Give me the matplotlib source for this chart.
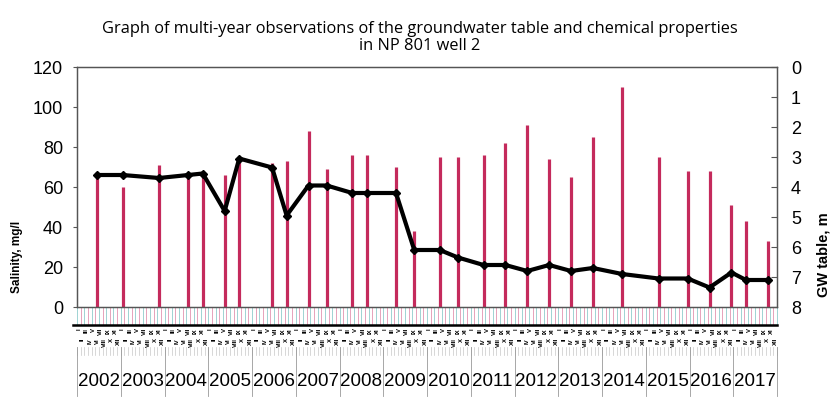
import matplotlib
matplotlib.use("Agg")
import matplotlib.pyplot as plt
import matplotlib.transforms as mtransforms

# observation dates (year-month), salinity (mg/l) and groundwater table depth (m)
DATES = ["2002-06", "2003-01", "2003-11", "2004-07", "2004-11", "2005-05",
         "2005-09", "2006-06", "2006-10", "2007-04", "2007-09", "2008-04",
         "2008-08", "2009-04", "2009-09", "2010-04", "2010-09", "2011-04",
         "2011-10", "2012-04", "2012-10", "2013-04", "2013-10", "2014-06",
         "2015-04", "2015-12", "2016-06", "2016-12", "2017-04", "2017-10"]
SALINITY = [66, 60, 71, 66, 66, 66, 74, 72, 73, 88, 69, 76, 76, 70, 38,
            75, 75, 76, 82, 91, 74, 65, 85, 110, 75, 68, 68, 51, 43, 33]
GW_DEPTH = [3.6, 3.6, 3.7, 3.6, 3.55, 4.8, 3.05, 3.35, 4.95, 3.95, 3.95, 4.2,
            4.2, 4.2, 6.1, 6.1, 6.35, 6.6, 6.6, 6.8, 6.6, 6.8, 6.7, 6.9,
            7.05, 7.05, 7.35, 6.85, 7.1, 7.1]
YEARS = list(range(2002, 2018))
MONTHS = ["I", "II", "III", "IV", "V", "VI", "VII", "VIII", "IX", "X", "XI", "XII"]

BAR_COLOR = "#c42a5c"
TICK_FONT = "Liberation Sans"


def to_year(s):
    y, m = s.split("-")
    return int(y) + (int(m) - 0.5) / 12


x = [to_year(d) for d in DATES]

fig = plt.figure(figsize=(8.4, 4.14), dpi=100)
W, H = 840, 414
ax = fig.add_axes([77 / W, 106 / H, 700 / W, 240 / H])

ax.vlines(x, 0, SALINITY, color=BAR_COLOR, lw=2.3, zorder=2)
ax.set_xlim(YEARS[0], YEARS[-1] + 1)
ax.set_ylim(0, 120)
ax.set_yticks(range(0, 121, 20))
ax.set_xticks([])
ax.tick_params(axis="y", direction="out", length=3, pad=7, labelsize=13,
               color="#555555")
for lab in ax.get_yticklabels():
    lab.set_fontfamily(TICK_FONT)

ax2 = ax.twinx()
ax2.plot(x, GW_DEPTH, color="black", lw=3.0, marker="D", ms=4.5, zorder=3)
ax2.set_ylim(8, 0)
ax2.set_yticks(range(0, 9))
ax2.tick_params(axis="y", direction="in", length=4, pad=10, labelsize=13,
                color="#555555")
for lab in ax2.get_yticklabels():
    lab.set_fontfamily(TICK_FONT)

for a in (ax, ax2):
    for sp in a.spines.values():
        sp.set_color("#555555")
        sp.set_linewidth(0.9)

# time scale under the plot: month ticks, month numerals, year blocks
trans = mtransforms.blended_transform_factory(ax.transData, ax.transAxes)
px = 1 / 240
for k in range(len(YEARS) * 12 + 1):
    m = YEARS[0] + k / 12
    c = "#e6a3bb" if k % 2 else "#9fd3d3"
    ax.plot([m, m], [0, -17 * px], color=c, lw=0.7, transform=trans,
            clip_on=False)
    ax.plot([m, m], [-40 * px, -48 * px], color="#c8c8c8", lw=0.5,
            transform=trans, clip_on=False)
ax.plot([YEARS[0] - 0.1, YEARS[-1] + 1], [-18 * px, -18 * px], color="black",
        lw=1.8, transform=trans, clip_on=False)

# month numerals in two staggered rows so they do not collide
for yr in YEARS:
    for k, mon in enumerate(MONTHS):
        row_y = -20 * px if k % 2 == 0 else -30 * px
        ax.text(yr + (k + 0.5) / 12, row_y, mon, rotation=90, ha="center",
                va="top", fontsize=4.3, fontweight="bold", fontfamily=TICK_FONT,
                transform=trans, clip_on=False)
    ax.text(yr + 0.5, -74 * px, str(yr), ha="center", va="center",
            fontsize=13.5, fontfamily=TICK_FONT, transform=trans)
for yr in YEARS + [YEARS[-1] + 1]:
    ax.plot([yr, yr], [-40 * px, -89 * px], color="#999999", lw=0.6,
            transform=trans, clip_on=False)

fig.text(0.5, 1 - 29 / H,
         "Graph of multi-year observations of the groundwater table and chemical properties",
         ha="center", va="center", fontsize=11.8, fontfamily="Open Sans")
fig.text(0.5, 1 - 46 / H, "in NP 801 well 2", ha="center", va="center",
         fontsize=11.8, fontfamily="Open Sans")

fig.text(17 / W, 1 - 257 / H, "Salinity, mg/l", rotation=90, ha="center",
         va="center", fontsize=8.5, fontweight="bold", fontfamily=TICK_FONT)
fig.text(823 / W, 1 - 255 / H, "GW table, m", rotation=90, ha="center",
         va="center", fontsize=10.5, fontweight="bold", fontfamily=TICK_FONT)

fig.savefig("out.png", dpi=100)
